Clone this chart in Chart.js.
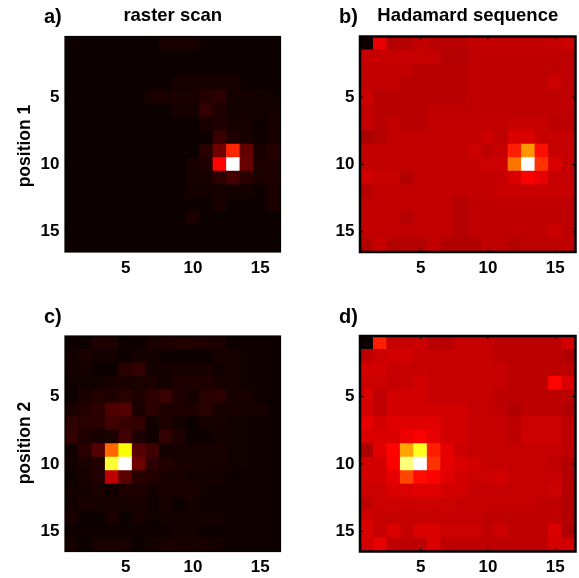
<!DOCTYPE html>
<html lang="en">
<head>
  <meta charset="UTF-8">
  <title>raster scan / Hadamard sequence</title>
  <script src="https://cdn.jsdelivr.net/npm/chart.js"></script>
  <style>
    html, body{margin:0; padding:0; background:#fff; overflow:hidden;}
    #wrap{position:relative; width:579px; height:578px;}
    canvas{position:absolute;}
    .tag{position:absolute; font:bold 20px "Liberation Sans", Arial, sans-serif; color:#000; line-height:20px;}
    .side{position:absolute; left:24px; font:bold 17.5px "Liberation Sans", Arial, sans-serif; color:#000; line-height:20px;
          white-space:nowrap; transform:translate(-50%,-50%) rotate(-90deg);}
  </style>
</head>
<body>
<div id="wrap">
  <canvas id="chartA" width="284" height="290" style="left:0;top:0"></canvas>
  <canvas id="chartB" width="284" height="290" style="left:295px;top:0"></canvas>
  <canvas id="chartC" width="284" height="290" style="left:0;top:300px"></canvas>
  <canvas id="chartD" width="284" height="290" style="left:295px;top:300px"></canvas>
  <div class="tag" style="left:44px;top:6px">a)</div>
  <div class="tag" style="left:339px;top:6px">b)</div>
  <div class="tag" style="left:44px;top:306px">c)</div>
  <div class="tag" style="left:339px;top:306px">d)</div>
  <div class="side" style="top:146px">position 1</div>
  <div class="side" style="top:443px">position 2</div>
</div>
<script>
  // tick labels, same on every axis
  const tickValues = [5, 10, 15];

  const titleA = "raster scan";
  const titleB = "Hadamard sequence";

  // intensity in percent, rows top to bottom, columns left to right
  const panelA = [
    [.3,.3,.3,.3,.3,.3,.3,2.5,2.5,2.5,.3,.3,.3,.3,.3,.3],
    [.3,.3,.3,.3,.3,.3,.3,.3,.3,.3,.3,.3,.3,.3,.3,.3],
    [.3,.3,.3,.3,.3,.3,.3,.3,.3,.3,.3,.3,.3,.3,.3,.3],
    [.3,.3,.3,.3,.3,.3,.3,.3,2,2,2,2,2,.3,.3,.3],
    [.3,.3,.3,.3,.3,.3,2.5,2.5,2.5,2.5,4,5,1.5,1.5,1.5,.8],
    [.3,.3,.3,.3,.3,.3,.3,.3,2,2,6,3,1.5,1.5,1.5,1.5],
    [.3,.3,.3,.3,.3,.3,.3,.3,.3,.3,2.5,3,2,2,.5,2],
    [.3,.3,.3,.3,.3,.3,.3,.3,.3,.3,.6,7,3,2,.5,2],
    [.3,.3,.3,.3,.3,.3,.3,.3,.3,.3,4.5,15,42,13,2.5,3.5],
    [.3,.3,.3,.3,.3,.3,.3,.3,.3,2,3,37,100,14,3,3],
    [.3,.3,.3,.3,.3,.3,.3,.3,.3,2,2,5,8.5,4.5,2.5,3],
    [.3,.3,.3,.3,.3,.3,.3,.3,.3,1.5,1.5,1.5,1.5,1.5,.5,2.5],
    [.3,.3,.3,.3,.3,.3,.3,.3,.3,.3,.3,2.5,.3,.3,.3,2.5],
    [.3,.3,.3,.3,.3,.3,.3,.3,.3,2.5,.3,.3,.3,.3,.3,.3],
    [.3,.3,.3,.3,.3,.3,.3,.3,.3,.3,.3,.3,.3,.3,.3,.3],
    [.3,.3,.3,.3,.3,.3,.3,.3,.3,.3,.3,.3,.3,.3,.3,.3]
  ];
  const panelB = [
    [1,33,25.5,25.5,27.5,26,26,26,27.5,27.5,27.5,27.5,27.5,27.5,27.5,29],
    [28,28,28,28,28,28,25.5,25.5,27,27,27,27,27,27,27,27],
    [27.5,27.5,27.5,27.5,26,26,26,26,27,27,27,27,27,27,27,27],
    [27.5,27.5,27.5,26,26,26,26,26,27,27,27,27,27,27,29,27],
    [29,26,26,26,26,26,26,26,27,27,27,27,27,27,27,27],
    [27.5,26,26,26,26,27,27,27,27,27,27,27,27,27,27,27],
    [28,26,27.5,26,26,27.5,27.5,27.5,27.5,27.5,27.5,28.5,28.5,28.5,26.5,26.5],
    [24,25.5,27.5,27.5,27.5,27.5,27.5,27.5,27.5,29,27,31,31,28,28,28],
    [27.5,27.5,27.5,27.5,27.5,27.5,27.5,27.5,29,27,28,41,59,38.5,28,28],
    [27.5,27.5,27.5,27.5,27.5,27.5,27.5,27.5,27.5,29,29,54,100,44,31,28],
    [30,28,28,25,27.5,27.5,27.5,27.5,27.5,27.5,28,31,36,33,28,28],
    [25.5,27.5,27.5,27.5,27.5,27.5,27.5,27.5,27.5,27.5,28.5,28.5,28.5,28.5,28.5,28.5],
    [27.5,27.5,27.5,27.5,27.5,27.5,27.5,25.5,27,27,27,27,27,27,27,27],
    [27.5,27.5,27.5,25.5,27.5,27.5,27.5,25.5,27,27,27,27,27,27,27,27],
    [27.5,27.5,27.5,27.5,27.5,27.5,27.5,25.5,27,27,27,27,27,27,29,27],
    [25.5,28,25.5,25.5,25.5,27.5,25,25,25,27,27,25.5,27,27,27,27]
  ];
  const panelC = [
    [.5,.5,3,3,.5,.5,2,3,3.5,3.5,3,2.5,.5,.5,.5,.5],
    [1.5,2.5,1.5,1.5,.5,1.5,1.5,.3,.3,.3,.3,2,2,.8,.5,.5],
    [1.5,1.5,.3,.3,4.5,6,1.5,1.5,2,2,2,.8,2,.8,.5,.5],
    [.8,.8,.8,2.5,2.5,2.5,2.5,1.5,3,3,3,2,2,.8,.5,.5],
    [.4,2.5,3.5,3,4.5,3,5,7,3,1.5,4.5,5,2,2,.5,.5],
    [2.5,3.5,5,10,11,2.5,5,3,3,3,4.5,2,2,2,2,.5],
    [5.5,4.5,4.5,8,7,6,1,3,1.5,.3,2,2,.8,.8,.5,.5],
    [6,3,2,2.5,8,3,1,6,3,.3,.3,1.5,.8,.8,.5,.5],
    [1.2,4.5,11,52,75,11,8,1.5,2,2,2,2,.8,.8,.5,.5],
    [1.2,2.5,3.5,80,100,15,5,3.5,2.5,2.5,2,2,.8,.8,.5,.5],
    [.5,2,3.5,27,12,4.5,3.5,2.5,2.5,1.5,1.5,1.5,.5,.5,.5,.5],
    [1.5,1.5,2.5,1,3,3,1.5,2.5,2.5,2.5,.8,.5,.5,.5,.5,.5],
    [.8,2,2,2,2,2,.8,2,.3,1.5,.5,.5,.5,.5,.5,.5],
    [2,.4,.4,2.5,.3,2,.8,1.5,1.5,1.5,1.5,1.5,.5,.5,.5,.5],
    [.5,.5,.5,.5,.5,.5,.5,.5,1.5,1.5,.5,.5,.5,.5,.5,.5],
    [1.5,.4,2,2,2,.4,1.5,2,2,2,2,1.5,.5,.5,.5,.5]
  ];
  const panelD = [
    [.5,41,28,28,29,26,26,28,28,28,26.5,26.5,26.5,26.5,26.5,30],
    [27,29,30,30,28,28,28,28,28,28,26.5,26.5,26.5,26.5,26.5,25],
    [30,30,28,28,28,28,28,28,28,28,28,26.5,26.5,26.5,26.5,26.5],
    [29,29,28,28,30,28,28,28,28,28,28,26.5,26.5,26.5,37,31],
    [31,27,30,30,30,28,28,28,28,28,26.5,26.5,26.5,26.5,26.5,26.5],
    [30,27,30,30,30,30,30,30,28,28,27,25,26.5,26.5,26.5,25],
    [33,30,32,32,32,32,30,30,28,28,28,27,29,29,29,27],
    [31,31,31,34,36,33,30,30,28,28,28,27,29,29,29,27],
    [24,32,37,61,78,41,33,29,28,28,28,28,28,28,28,27],
    [30,30,36,87,100,44,33,31,30,28,28,28,28,28,27,25.5],
    [30,30,33,47,38,36,32,30,29,29,30,28,28,28,28,25.5],
    [29,29,31,31,32,32,30,30,28,28,28,28,28,28,29,25.5],
    [27,29,29,29,29,29,29,28,28,28,28,28,28,27,27,25.5],
    [30,28,28,28,28,28,28,28,28,27,27,27,27,27,27,25.5],
    [31,28,31,28,31,31,29,29,29,27,29,27,27,27,31,25],
    [30,33,27,27,27,31,27,27,27,27,27,27,27,27,30,30]
  ];

  // matlab "hot" colormap
  function hot(pct){
    let v = pct / 100;
    let r = Math.min(1, 0.0416 + v * 0.9584 / 0.365);
    let g = Math.max(0, Math.min(1, (v - 0.365) / 0.381));
    let b = Math.max(0, Math.min(1, (v - 0.746) / 0.254));
    return "rgb(" + Math.round(r*255) + "," + Math.round(g*255) + "," + Math.round(b*255) + ")";
  }

  // frame and inward ticks on all four sides
  const framePlugin = {
    id: "frame",
    afterDatasetsDraw(chart, args, opts){
      const c = chart.ctx, a = chart.chartArea;
      c.save();
      c.strokeStyle = "#000";
      c.lineWidth = opts.width;
      c.strokeRect(a.left, a.top, a.right - a.left, a.bottom - a.top);
      c.lineWidth = 1;
      tickValues.forEach(function(t){
        let x = chart.scales.x.getPixelForValue(t);
        let y = chart.scales.y.getPixelForValue(t);
        c.beginPath();
        c.moveTo(x, a.top); c.lineTo(x, a.top + 3.5);
        c.moveTo(x, a.bottom); c.lineTo(x, a.bottom - 3.5);
        c.moveTo(a.left, y); c.lineTo(a.left + 3.5, y);
        c.moveTo(a.right, y); c.lineTo(a.right - 3.5, y);
        c.stroke();
      });
      c.restore();
    }
  };

  function axis(extra, tickPad){
    return Object.assign({
      type: "linear",
      min: 0.5,
      max: 16.5,
      grid: {display: false, drawTicks: false},
      border: {display: false},
      afterBuildTicks: function(s){ s.ticks = tickValues.map(function(v){ return {value: v}; }); },
      ticks: {
        autoSkip: false,
        maxRotation: 0,
        padding: tickPad,
        color: "#000",
        font: {family: "Liberation Sans", weight: "bold", size: 17}
      }
    }, extra);
  }

  function drawPanel(id, rows, title, frameWidth, topGap, xHeight){
    let points = [];
    rows.forEach(function(row, j){
      row.forEach(function(v, i){
        points.push({x: i + 1, y: j + 1, v: v});
      });
    });

    new Chart(document.getElementById(id), {
      type: "scatter",
      data: {
        datasets: [{
          data: points,
          pointStyle: "rect",
          borderWidth: 0,
          backgroundColor: function(ctx){ return hot(ctx.raw.v); },
          // rect side = radius * sqrt2, 1px over the cell so neighbours overlap and no seams show
          pointRadius: function(ctx){
            let sx = ctx.chart.scales.x;
            return (sx.getPixelForValue(2) - sx.getPixelForValue(1) + 1) / Math.SQRT2;
          }
        }]
      },
      options: {
        responsive: false,
        animation: false,
        layout: {padding: {top: title ? 0 : topGap, right: 3.5}},
        plugins: {
          legend: {display: false},
          tooltip: {enabled: false},
          frame: {width: frameWidth},
          title: {
            display: !!title,
            text: title,
            fullSize: false,
            color: "#000",
            font: {family: "Liberation Sans", weight: "bold", size: 18.5},
            padding: {top: 5, bottom: topGap - 27.2}
          }
        },
        scales: {
          x: axis({
            afterFit: function(s){ s.height = xHeight; }
          }, 6),
          y: axis({
            reverse: true,
            afterFit: function(s){ s.width = 65; }
          }, 5.5)
        }
      },
      plugins: [framePlugin]
    });
  }

  drawPanel("chartA", panelA, titleA, 1.2, 36.5, 38);
  drawPanel("chartB", panelB, titleB, 2.5, 36.5, 38);
  drawPanel("chartC", panelC, "", 1.2, 36, 38.5);
  drawPanel("chartD", panelD, "", 2.5, 36, 38.5);
</script>
</body>
</html>
